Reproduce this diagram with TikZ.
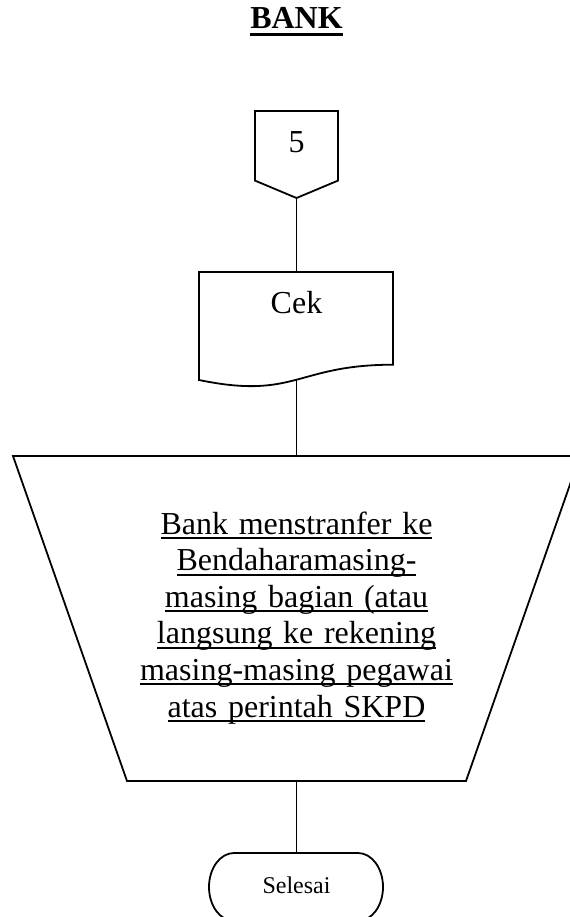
\documentclass[tikz,border=0pt]{standalone}
\usepackage{fontspec}
\setmainfont{Liberation Serif}
\newsavebox\ulinebox
% underline at a fixed depth below the baseline, crossing descenders
\newcommand{\ulline}[1]{\leavevmode\sbox\ulinebox{#1}\rlap{\rule[-3.75pt]{\wd\ulinebox}{1.5pt}}\usebox\ulinebox}
\newcommand{\ulhead}[1]{\leavevmode\sbox\ulinebox{#1}\rlap{\rule[-5.6pt]{\wd\ulinebox}{2.25pt}}\usebox\ulinebox}

\begin{document}
\begin{tikzpicture}[x=0.75pt, y=-0.75pt,
  lbl/.style={inner sep=0pt, anchor=base, font=\fontsize{24}{27.45}\selectfont},
  smalllbl/.style={inner sep=0pt, anchor=base, font=\fontsize{18}{21}\selectfont},
  outline/.style={draw=black, line width=1.35pt, line join=miter},
  link/.style={draw=black, line width=1.35pt}]

\useasboundingbox (0,0) rectangle (569,917);

% heading
\node[lbl, font=\fontsize{24}{28}\selectfont\bfseries] (title) at (296.5,29) {\ulhead{BANK}};

% off-page connector 5
\draw[outline] (255,111) -- (338,111) -- (338,180.6) -- (296.5,198) -- (255,180.6) -- cycle;
\coordinate (off-tip) at (296.5,198);
\node[lbl] (offText) at (296.5,152) {5};

% document: Cek
\draw[outline] (199,272) -- (393,272) -- (393,364.7)
  .. controls (296,364.7) and (296,400) .. (199,380) -- cycle;
\coordinate (cek-top) at (296.5,272);
\coordinate (cek-bot) at (296.5,380);
\node[lbl] (cekText) at (296.5,313) {Cek};

% manual operation
\draw[outline] (13,456) -- (580,456) -- (466,781) -- (127,781) -- cycle;
\coordinate (proc-top) at (296.5,456);
\coordinate (proc-bot) at (296.5,781);
\node[lbl, text width=260pt, align=center] (procText) at (296.5,534)
  {\ulline{Bank menstranfer ke}\\
   \ulline{Bendaharamasing-}\\
   \ulline{masing bagian (atau}\\
   \ulline{langsung ke rekening}\\
   \ulline{masing-masing pegawai}\\
   \ulline{atas perintah SKPD}};

% terminator (its lower edge runs past the page)
\draw[outline] (358,853) .. controls (371.8,853) and (383,868.2) .. (383,887)
  .. controls (383,905.8) and (371.8,921) .. (358,921) -- (234,921)
  .. controls (220.2,921) and (209,905.8) .. (209,887)
  .. controls (209,868.2) and (220.2,853) .. (234,853) -- cycle;
\coordinate (end-top) at (296.5,853);
\node[smalllbl] (endText) at (296.5,893) {Selesai};

% flow lines
\draw[link] (off-tip) -- (cek-top);
\draw[link] (cek-bot) -- (proc-top);
\draw[link] (proc-bot) -- (end-top);
\end{tikzpicture}
\end{document}
